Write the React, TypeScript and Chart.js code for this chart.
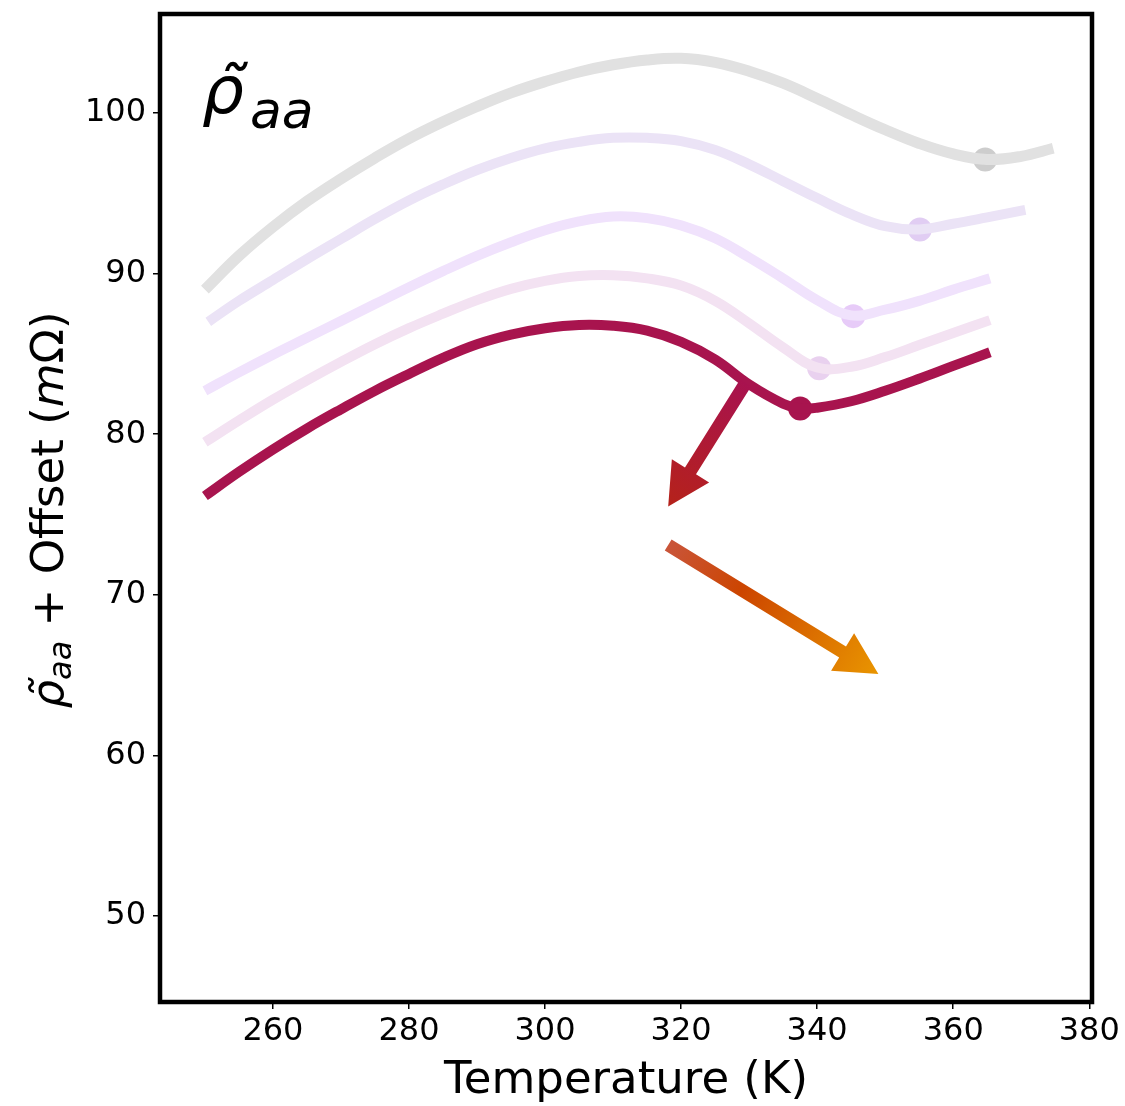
import React, { useEffect, useRef } from "react";
import { Chart, registerables } from "chart.js";
Chart.register(...registerables);

const FONT = "DejaVu Sans";

const xTicks = [260, 280, 300, 320, 340, 360, 380];
const yTicks = [50, 60, 70, 80, 90, 100];

// Temperature (K) / resistivity + offset (mΩ)
const grayT = [250, 255, 260, 265, 270, 275, 280, 285, 290, 295, 300, 305, 310, 315, 320, 325, 330, 335, 340, 345, 350, 355, 360, 365, 370, 374.7];
const grayR = [89.0, 91.1, 92.9, 94.5, 95.9, 97.2, 98.4, 99.45, 100.4, 101.25, 101.95, 102.55, 103.0, 103.3, 103.4, 103.15, 102.6, 101.85, 100.9, 99.9, 98.95, 98.1, 97.45, 97.1, 97.3, 97.8];

const lavT = [250.5, 255, 260, 265, 270, 275, 280, 285, 290, 295, 300, 305, 310, 315, 320, 325, 330, 335, 340, 345, 350, 355, 360, 365, 370.6];
const lavR = [87.0, 88.3, 89.6, 90.9, 92.15, 93.4, 94.55, 95.55, 96.45, 97.2, 97.8, 98.2, 98.45, 98.45, 98.25, 97.7, 96.8, 95.75, 94.7, 93.7, 92.95, 92.75, 93.1, 93.5, 93.96];

const purT = [250, 255, 260, 265, 270, 275, 280, 285, 290, 295, 300, 305, 310, 315, 320, 325, 330, 335, 340, 345, 350, 355, 360, 365.4];
const purR = [82.7, 83.85, 84.95, 86.0, 87.05, 88.1, 89.15, 90.15, 91.1, 91.95, 92.7, 93.25, 93.55, 93.45, 93.0, 92.2, 91.0, 89.7, 88.35, 87.4, 87.75, 88.3, 89.0, 89.7];

const pinkT = [250, 255, 260, 265, 270, 275, 280, 285, 290, 295, 300, 305, 310, 315, 320, 325, 330, 335, 340, 345, 350, 355, 360, 365.4];
const pinkR = [79.5, 80.85, 82.15, 83.35, 84.5, 85.6, 86.6, 87.5, 88.35, 89.05, 89.55, 89.85, 89.9, 89.7, 89.25, 88.3, 86.9, 85.4, 84.15, 84.2, 84.8, 85.55, 86.3, 87.1];

const mainT = [250, 255, 260, 265, 270, 275, 280, 285, 290, 295, 300, 305, 310, 315, 320, 325, 330, 335, 337.5, 340, 345, 350, 355, 360, 365.4];
const mainR = [76.15, 77.65, 79.05, 80.35, 81.55, 82.7, 83.75, 84.75, 85.6, 86.2, 86.6, 86.8, 86.75, 86.45, 85.75, 84.65, 83.1, 81.9, 81.6, 81.65, 82.05, 82.7, 83.45, 84.25, 85.1];

// minima markers: [T, R]
const markerT = [364.7, 355.1, 345.3, 340.3, 337.5];
const markerR = [97.1, 92.75, 87.35, 84.1, 81.6];

// annotation arrows: start (T, R) -> tip (T, R)
const arrowFromT = [329.5, 318.1];
const arrowFromR = [83.2, 73.1];
const arrowToT = [318.1, 349.0];
const arrowToR = [75.5, 65.07];

const pts = (xs: number[], ys: number[]) => xs.map((x, i) => ({ x, y: ys[i] }));

const lineDs = (label: string, xs: number[], ys: number[], color: string, width: number) => ({
  label,
  data: pts(xs, ys),
  borderColor: color,
  backgroundColor: color,
  borderWidth: width,
  borderCapStyle: "butt" as const,
  borderJoinStyle: "round" as const,
  pointRadius: 0,
  tension: 0.4,
  fill: false,
});

const markerDs = (label: string, i: number, color: string, r: number) => ({
  label,
  data: [{ x: markerT[i], y: markerR[i] }],
  borderColor: color,
  backgroundColor: color,
  borderWidth: 0,
  pointRadius: r,
  showLine: false,
});

const framePlugin = {
  id: "frame",
  afterDraw(chart: any) {
    const { ctx, chartArea: a } = chart;
    ctx.save();
    ctx.strokeStyle = "#000";
    ctx.lineWidth = 4.5;
    ctx.strokeRect(a.left, a.top, a.right - a.left, a.bottom - a.top);
    ctx.restore();
  },
};

const arrowPlugin = {
  id: "arrows",
  afterDatasetsDraw(chart: any) {
    const { ctx } = chart;
    const xs = chart.scales.x;
    const ys = chart.scales.y;
    const stops = [
      [[0, "#a8124f"], [1, "#b5221a"]],
      [[0, "#c9553a"], [0.35, "#cc4500"], [1, "#e99500"]],
    ];
    for (let i = 0; i < arrowFromT.length; i++) {
      const x0 = xs.getPixelForValue(arrowFromT[i]);
      const y0 = ys.getPixelForValue(arrowFromR[i]);
      const x1 = xs.getPixelForValue(arrowToT[i]);
      const y1 = ys.getPixelForValue(arrowToR[i]);
      const dx = x1 - x0, dy = y1 - y0;
      const len = Math.hypot(dx, dy);
      const ux = dx / len, uy = dy / len;
      const nx = -uy, ny = ux;
      const headLen = 42, headHalf = 22, shaftHalf = 6.5;
      const bx = x1 - ux * headLen, by = y1 - uy * headLen;
      const g = ctx.createLinearGradient(x0, y0, x1, y1);
      for (const [o, c] of stops[i] as any) g.addColorStop(o, c);
      ctx.save();
      ctx.fillStyle = g;
      ctx.beginPath();
      ctx.moveTo(x0 + nx * shaftHalf, y0 + ny * shaftHalf);
      ctx.lineTo(bx + nx * shaftHalf, by + ny * shaftHalf);
      ctx.lineTo(bx + nx * headHalf, by + ny * headHalf);
      ctx.lineTo(x1, y1);
      ctx.lineTo(bx - nx * headHalf, by - ny * headHalf);
      ctx.lineTo(bx - nx * shaftHalf, by - ny * shaftHalf);
      ctx.lineTo(x0 - nx * shaftHalf, y0 - ny * shaftHalf);
      ctx.closePath();
      ctx.fill();
      ctx.restore();
    }
  },
};

const labelPlugin = {
  id: "labels",
  afterDraw(chart: any) {
    const { ctx, chartArea: a } = chart;
    ctx.save();
    ctx.fillStyle = "#000";
    ctx.textBaseline = "alphabetic";
    ctx.textAlign = "left";
    // in-plot label
    ctx.font = `italic 66px "${FONT}"`;
    const rho = "\u03C1\u0303";
    ctx.fillText(rho, a.left + 42, a.top + 99);
    const rw = ctx.measureText("\u03C1").width;
    ctx.font = `italic 52px "${FONT}"`;
    ctx.fillText("aa", a.left + 42 + rw + 6, a.top + 114);

    // y-axis title (rotated)
    const segs = [
      { t: rho, f: `italic 45px "${FONT}"`, dy: 0 },
      { t: "aa", f: `italic 32px "${FONT}"`, dy: 8 },
      { t: " + Offset (", f: `45px "${FONT}"`, dy: 0 },
      { t: "m", f: `italic 45px "${FONT}"`, dy: 0 },
      { t: "\u03A9)", f: `45px "${FONT}"`, dy: 0 },
    ];
    let total = 0;
    const widths: number[] = [];
    for (const s of segs) {
      ctx.font = s.f;
      const w = s.t === rho ? ctx.measureText("\u03C1").width : ctx.measureText(s.t).width;
      widths.push(w);
      total += w;
    }
    ctx.translate(63, 510);
    ctx.rotate(-Math.PI / 2);
    let x = -total / 2;
    segs.forEach((s, i) => {
      ctx.font = s.f;
      ctx.fillText(s.t, x, s.dy);
      x += widths[i];
    });
    ctx.restore();
  },
};

export default function App() {
  const ref = useRef<HTMLCanvasElement | null>(null);
  useEffect(() => {
    if (!ref.current) return;
    const chart = new Chart(ref.current, {
      type: "line",
      data: {
        datasets: [
          lineDs("gray", grayT, grayR, "#e1e1e1", 11),
          lineDs("lavender", lavT, lavR, "#ebe3f6", 10),
          lineDs("purple", purT, purR, "#f0e2fc", 10),
          lineDs("pink", pinkT, pinkR, "#f3e2f2", 10),
          lineDs("main", mainT, mainR, "#a8144e", 10),
          markerDs("m0o", 0, "#cdcdcd", 12),
          markerDs("m0i", 0, "#b4b4b4", 4),
          markerDs("m1o", 1, "#e1cdf3", 12),
          markerDs("m1i", 1, "#d2b0ee", 4),
          markerDs("m2o", 2, "#e7cbf8", 12),
          markerDs("m2i", 2, "#d9adf3", 4),
          markerDs("m3o", 3, "#e9d1ef", 12),
          markerDs("m3i", 3, "#dcb9e7", 4),
          markerDs("m4", 4, "#a8144e", 12),
        ] as any,
      },
      options: {
        responsive: false,
        animation: false,
        layout: { padding: { top: 14, right: 33, left: 0, bottom: 0 } },
        plugins: { legend: { display: false }, tooltip: { enabled: false } },
        scales: {
          x: {
            type: "linear",
            min: 243.4,
            max: 380.4,
            afterBuildTicks: (s: any) => {
              s.ticks = xTicks.map((v) => ({ value: v }));
            },
            afterFit: (s: any) => {
              s.height = 104;
              s.paddingLeft = 0;
            },
            grid: { display: true, drawOnChartArea: false, drawTicks: true, tickLength: 7, color: "#000", lineWidth: 1.5 },
            border: { display: false },
            ticks: { color: "#000", font: { family: FONT, size: 32 }, padding: 3, maxRotation: 0, autoSkip: false },
            title: { display: true, text: "Temperature (K)", color: "#000", font: { family: FONT, size: 45 }, padding: { top: 0, bottom: -2 } },
          },
          y: {
            type: "linear",
            min: 44.65,
            max: 106.16,
            afterBuildTicks: (s: any) => {
              s.ticks = yTicks.map((v) => ({ value: v }));
            },
            afterFit: (s: any) => {
              s.width = 160;
              s.paddingTop = 0;
              s.paddingBottom = 0;
            },
            grid: { display: true, drawOnChartArea: false, drawTicks: true, tickLength: 7, color: "#000", lineWidth: 1.5 },
            border: { display: false },
            ticks: { color: "#000", font: { family: FONT, size: 32 }, padding: 7, autoSkip: false },
          },
        },
      } as any,
      plugins: [arrowPlugin, framePlugin, labelPlugin],
    });
    return () => chart.destroy();
  }, []);
  return (
    <div style={{ position: "fixed", left: 0, top: 0, width: 1125, height: 1106, background: "#fff" }}>
      <canvas ref={ref} width={1125} height={1106} style={{ display: "block" }} />
    </div>
  );
}
